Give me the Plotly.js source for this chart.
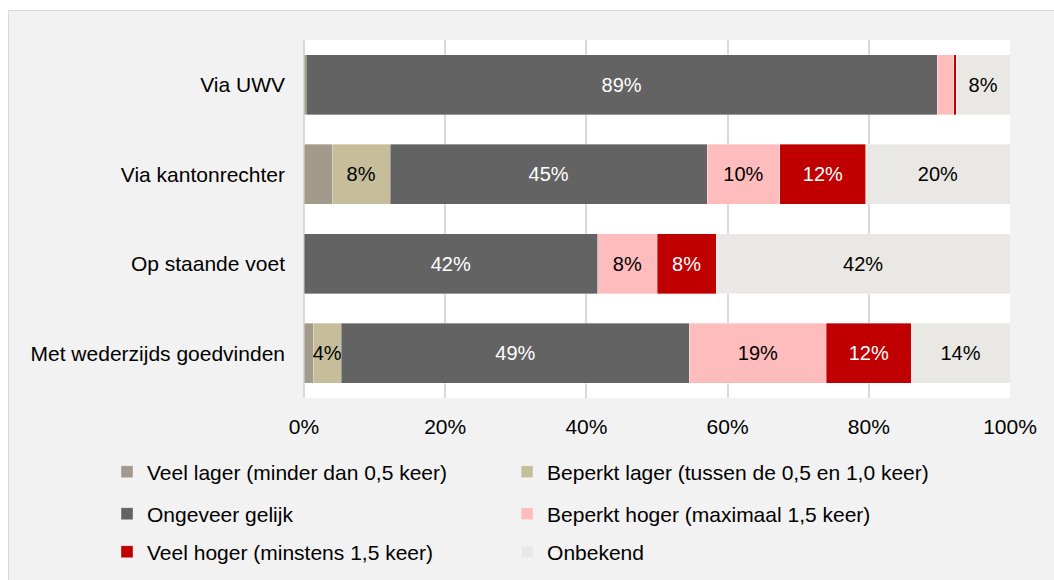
<!DOCTYPE html>
<html>
<head>
<meta charset="utf-8">
<script src="https://cdn.plot.ly/plotly-3.0.1.min.js"></script>
<style>
  html, body { margin: 0; padding: 0; background: #ffffff; }
  #wrap { position: absolute; left: 8px; top: 10px; width: 1045px; height: 569px;
          border-left: 1px solid #d9d9d9; border-top: 1px solid #d9d9d9; background: #f2f2f2; }
  #chart { width: 1045px; height: 569px; }
</style>
</head>
<body>
<div id="wrap"><div id="chart"></div></div>
<script>
// Categories (top to bottom)
const categories = ["Via UWV", "Via kantonrechter", "Op staande voet", "Met wederzijds goedvinden"];

// Series values (percent), in category order
const veelLager      = [0.3, 4.0, 0.0, 1.3];
const beperktLager   = [0.0, 8.2, 0.0, 4.0];
const ongeveerGelijk = [89.4, 44.9, 41.6, 49.3];
const beperktHoger   = [2.3, 10.3, 8.4, 19.4];
const veelHoger      = [0.4, 12.2, 8.4, 12.0];
const onbekend       = [7.6, 20.4, 41.6, 14.0];

const seriesNames = [
  "Veel lager (minder dan 0,5 keer)",
  "Beperkt lager (tussen de 0,5 en 1,0 keer)",
  "Ongeveer gelijk",
  "Beperkt hoger (maximaal 1,5 keer)",
  "Veel hoger (minstens 1,5 keer)",
  "Onbekend"
];

const xTickValues = [0, 20, 40, 60, 80, 100];
const xTickLabels = ["0%", "20%", "40%", "60%", "80%", "100%"];

const seriesValues = [veelLager, beperktLager, ongeveerGelijk, beperktHoger, veelHoger, onbekend];
const colors = ["#a29a8b", "#c6be9b", "#636363", "#ffbcbc", "#c00000", "#e9e8e4"];
const textColors = ["#000000", "#000000", "#ffffff", "#000000", "#ffffff", "#000000"];
const showLabels = [false, true, true, true, true, true];

// legend grid: 2 columns x 3 rows (container coordinates)
const legendColX = [0.0938, 0.4766];
const legendRowY = [0.1898, 0.1160, 0.0492];

const traces = seriesValues.map((vals, i) => ({
  type: "bar",
  orientation: "h",
  name: seriesNames[i],
  y: categories,
  x: vals,
  marker: { color: colors[i], line: { color: "rgba(255,255,255,0.7)", width: 0.5 } },
  text: vals.map(v => (showLabels[i] && v >= 3.5) ? Math.round(v) + "%" : ""),
  textposition: "inside",
  insidetextanchor: "middle",
  textangle: 0,
  constraintext: "none",
  textfont: { family: "Liberation Sans, Arial, sans-serif", size: 20, color: textColors[i] },
  hoverinfo: "skip",
  legend: i === 0 ? "legend" : "legend" + (i + 1)
}));

const layout = {
  width: 1045,
  height: 569,
  paper_bgcolor: "#f2f2f2",
  plot_bgcolor: "#ffffff",
  margin: { l: 295, r: 44, t: 29, b: 182, autoexpand: false },
  barmode: "stack",
  bargap: 0.33,
  showlegend: true,
  font: { family: "Liberation Sans, Arial, sans-serif", color: "#000000" },
  xaxis: {
    range: [0, 100],
    tickvals: xTickValues,
    ticktext: xTickLabels,
    showgrid: true,
    gridcolor: "#d9d9d9",
    gridwidth: 1.5,
    zeroline: true,
    zerolinecolor: "#d9d9d9",
    zerolinewidth: 1.5,
    showline: false,
    ticks: "",
    ticklabelstandoff: 14,
    tickfont: { size: 21, color: "#000000" },
    fixedrange: true
  },
  yaxis: {
    autorange: "reversed",
    showgrid: false,
    zeroline: false,
    showline: false,
    ticks: "",
    ticklabelstandoff: 18,
    tickfont: { size: 21, color: "#000000" },
    fixedrange: true
  }
};

seriesNames.forEach((_, i) => {
  const key = i === 0 ? "legend" : "legend" + (i + 1);
  layout[key] = {
    orientation: "v",
    xref: "container",
    yref: "container",
    xanchor: "left",
    yanchor: "middle",
    x: legendColX[i % 2],
    y: legendRowY[Math.floor(i / 2)],
    bgcolor: "rgba(0,0,0,0)",
    font: { family: "Liberation Sans, Arial, sans-serif", size: 21, color: "#000000" },
    itemclick: false,
    itemdoubleclick: false
  };
});

Plotly.newPlot("chart", traces, layout, { displayModeBar: false, responsive: false });
</script>
</body>
</html>
